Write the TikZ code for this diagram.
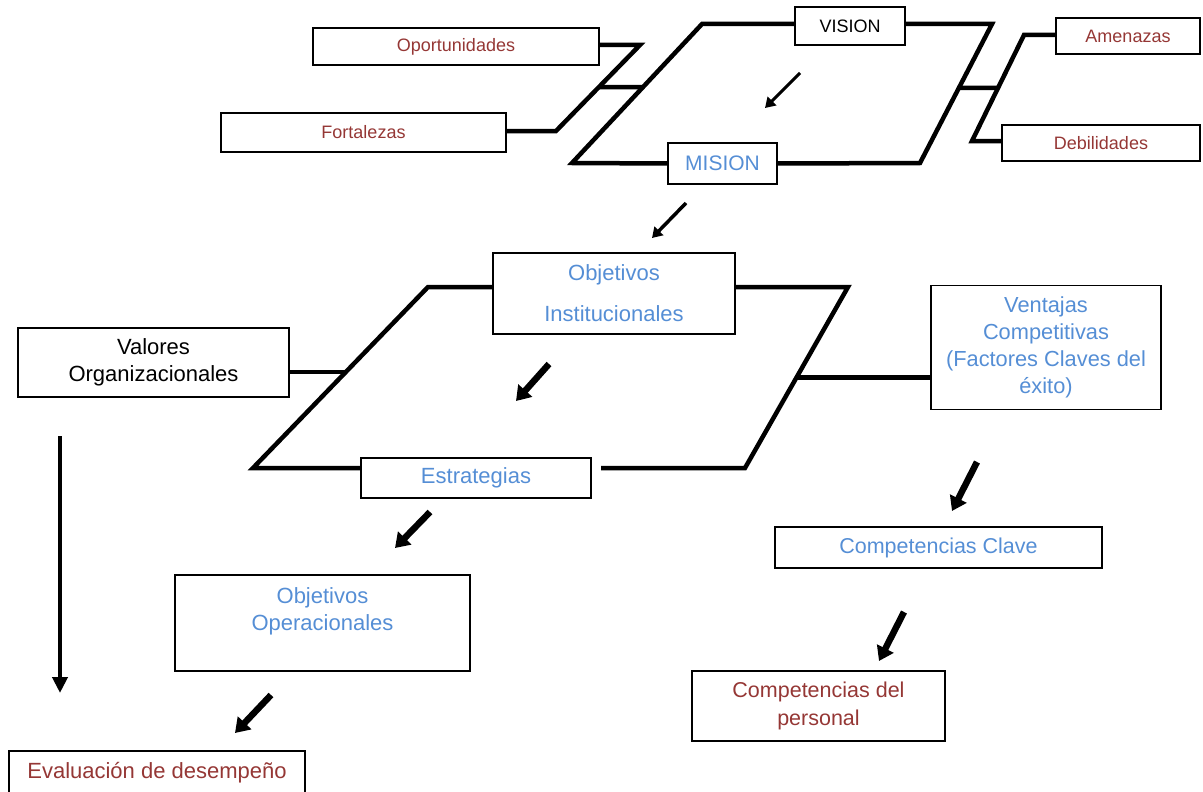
\documentclass[tikz,border=0pt]{standalone}
\usepackage{fontspec}
\setmainfont{Liberation Sans}
\usetikzlibrary{arrows.meta}
\usetikzlibrary{calc}
\definecolor{rojo}{RGB}{149,55,53}
\definecolor{azul}{RGB}{85,142,213}
\tikzset{
  caja/.style={draw, line width=1.5pt, inner sep=0pt, align=center},
  chico/.style={font=\fontsize{18}{21}\selectfont},
  grande/.style={font=\fontsize{22}{27}\selectfont},
  linea/.style={line width=4.5pt},
  flechita/.style={line width=3pt, -{Triangle[width=12pt,length=10pt]}},
  flecha/.style={line width=6.5pt, -{Triangle[width=18pt,length=14pt]}},
}
\begin{document}
\begin{tikzpicture}[x=1pt,y=-1pt]
\useasboundingbox (0,0) rectangle (1203,792);

\node[caja, chico, text=rojo, minimum width=286, minimum height=37] (oport) at (456,46.5) {Oportunidades};
\node[caja, chico, text=rojo, minimum width=285, minimum height=39] (fort) at (363.5,132.5) {Fortalezas};
\node[caja, chico, minimum width=110, minimum height=38] (vision) at (850,26) {VISION};
\node[caja, font=\fontsize{21}{25}\selectfont, text=azul, minimum width=109, minimum height=41] (mision) at (722.5,163.5) {MISION};
\node[caja, chico, text=rojo, minimum width=144, minimum height=36] (amen) at (1128,36) {Amenazas};
\node[caja, chico, text=rojo, minimum width=198, minimum height=36] (debil) at (1101,143) {Debilidades};

\node[caja, grande, text=azul, minimum width=242, minimum height=81] (objinst) at (614,293.5) {Objetivos\\[14pt]Institucionales};
\node[caja, grande, minimum width=271, minimum height=69] (valores) at (153.5,362.5) {Valores\\Organizacionales};
\node[caja, font=\fontsize{21.8}{27}\selectfont, text=azul, minimum width=230, minimum height=124] (ventajas) at (1046,347.5) {Ventajas\\Competitivas\\(Factores Claves del\\éxito)};
\node[caja, grande, text=azul, minimum width=230, minimum height=40] (estr) at (476,478) {Estrategias};
\node[caja, font=\fontsize{21.5}{27}\selectfont, text=azul, minimum width=327, minimum height=41] (compclave) at (938.5,547.5) {Competencias Clave};
\node[caja, grande, text=azul, minimum width=295, minimum height=96] (objop) at (322.5,623) {Objetivos\\Operacionales\\\mbox{}};
\node[caja, font=\fontsize{22}{27}\selectfont, text=rojo, minimum width=296, minimum height=44] (eval) at (157,773) {Evaluación de desempeño};
\node[caja, font=\fontsize{21.5}{28}\selectfont, text=rojo, minimum width=253, minimum height=70] (comppers) at (818.5,706) {Competencias del\\personal};

\coordinate (TL) at (702,24);
\coordinate (TR) at (992,24);
\coordinate (BR) at (920,163);
\coordinate (BL) at (572,163);
\draw[linea] (vision.west |- TL) -- (TL) -- (BL) -- (mision.west);
\draw[linea] (vision.east |- TR) -- (TR) -- (BR) -- (mision.east);

\coordinate (fo1) at (640,45);
\coordinate (fo2) at (556,131);
\draw[linea] (oport.east |- fo1) -- (fo1) -- (fo2) -- (fort.east |- fo2);
\draw[linea] ($(fo1)!0.49!(fo2)$) -- ($(TL)!0.455!(BL)$);

\coordinate (ad1) at (1024,35);
\coordinate (ad2) at (972,141);
\draw[linea] (amen.west |- ad1) -- (ad1) -- (ad2) -- (debil.west |- ad2);
\draw[linea] ($(TR)!0.46!(BR)$) -- ($(ad1)!0.5!(ad2)$);

\coordinate (MTL) at (428,287);
\coordinate (MTR) at (848,287);
\coordinate (MBR) at (745,468);
\coordinate (MBL) at (253,468);
\coordinate (ebr) at (601,468);
\draw[linea] (objinst.west |- MTL) -- (MTL) -- (MBL) -- (estr.west |- MBL);
\draw[linea] (objinst.east |- MTR) -- (MTR) -- (MBR) -- (ebr);
\coordinate (vo) at ($(MTL)!0.47!(MBL)$);
\draw[linea] (valores.east |- vo) -- (vo);
\coordinate (ve) at ($(MTR)!0.5!(MBR)$);
\draw[linea] (ve) -- (ventajas.west |- ve);

\coordinate (a1) at (800,73);
\coordinate (a2) at (765,108);
\draw[flechita] (a1) -- (a2);
\coordinate (b1) at (686,203);
\coordinate (b2) at (652,238);
\draw[flechita, line width=3.5pt] (b1) -- (b2);
\coordinate (c1) at (549,364);
\coordinate (c2) at (516,401);
\draw[flecha] (c1) -- (c2);
\coordinate (d1) at (430,512);
\coordinate (d2) at (395,548);
\draw[flecha] (d1) -- (d2);
\coordinate (e1) at (271,695);
\coordinate (e2) at (235,733);
\draw[flecha] (e1) -- (e2);
\coordinate (f1) at (977,462);
\coordinate (f2) at (952,511);
\draw[flecha] (f1) -- (f2);
\coordinate (g1) at (904,612);
\coordinate (g2) at (879,661);
\draw[flecha] (g1) -- (g2);
\coordinate (h1) at (60,436);
\coordinate (h2) at (60,693);
\draw[line width=4.5pt, -{Triangle[width=15pt,length=16pt]}] (h1) -- (h2);
\end{tikzpicture}
\end{document}
